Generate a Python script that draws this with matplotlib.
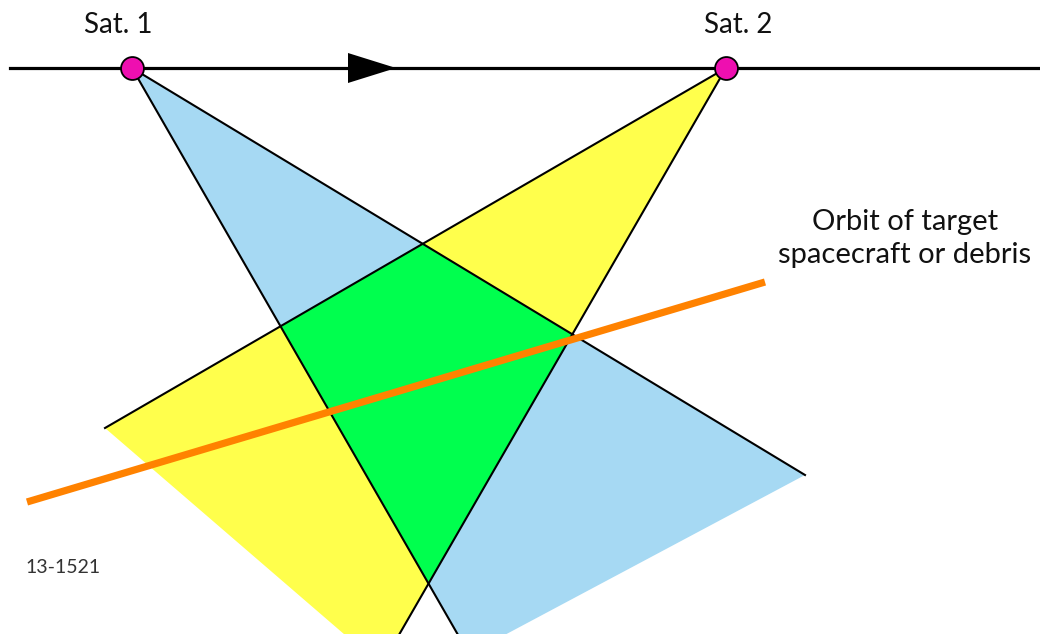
import matplotlib.pyplot as plt
from matplotlib.patches import Polygon

# diagram geometry, in picture pixels (y grows downward)
orbit_y = 68
orbit_x = [10, 1040]
sat_names = ["Sat. 1", "Sat. 2"]
sat_x = [132, 726]

# footprint of each satellite's view cone: apex, far corner, lower vertex
blue_cone = [(132, 68), (805, 475), (469, 654)]
yellow_cone = [(726, 68), (105, 428), (381, 666)]

# orbit of the target
target_x = [27, 765]
target_y = [502, 282]

# direction arrow on the satellites' orbit
arrow_tip = 396
arrow_len = 48
arrow_half = 15

BLUE = "#a6d9f3"
YELLOW = "#ffff4c"
GREEN = "#00ff4e"
MAGENTA = "#ee0fb0"
ORANGE = "#ff8200"


def main():
    plt.rcParams["font.family"] = ["Lato", "DejaVu Sans"]
    fig = plt.figure(figsize=(10.4, 6.34), dpi=100)
    ax = fig.add_axes([0, 0, 1, 1])
    ax.set_xlim(0, 1040)
    ax.set_ylim(634, 0)
    ax.axis("off")

    blue = Polygon(blue_cone, closed=True, facecolor=BLUE, edgecolor="none", zorder=1)
    yellow = Polygon(yellow_cone, closed=True, facecolor=YELLOW, edgecolor="none", zorder=2)
    ax.add_patch(blue)
    ax.add_patch(yellow)

    # overlap of both cones in green
    green = Polygon(yellow_cone, closed=True, facecolor=GREEN, edgecolor="none", zorder=3)
    ax.add_patch(green)
    green.set_clip_path(blue)

    # black edges of the cones (the far edges carry no outline)
    for cone in (blue_cone, yellow_cone):
        apex, far, low = cone
        ax.plot([apex[0], far[0]], [apex[1], far[1]], color="black", lw=1.5, zorder=4)
        ax.plot([apex[0], low[0]], [apex[1], low[1]], color="black", lw=1.5, zorder=4)

    ax.plot(target_x, target_y, color=ORANGE, lw=5.2, solid_capstyle="butt", zorder=5)

    ax.plot(orbit_x, [orbit_y, orbit_y], color="black", lw=2.3, zorder=6)
    arrow = Polygon([(arrow_tip - arrow_len, orbit_y - arrow_half),
                     (arrow_tip, orbit_y),
                     (arrow_tip - arrow_len, orbit_y + arrow_half)],
                    closed=True, facecolor="black", edgecolor="none", zorder=7)
    ax.add_patch(arrow)

    ax.plot(sat_x, [orbit_y] * len(sat_x), "o", markersize=16.5, markerfacecolor=MAGENTA,
            markeredgecolor="black", markeredgewidth=1.3, zorder=8)

    label_x = [118, 738]
    for name, x in zip(sat_names, label_x):
        ax.text(x, 33, name, ha="center", va="baseline", fontsize=20, color="#111111")

    ax.text(905, 230, "Orbit of target", ha="center", va="baseline", fontsize=21, color="#111111")
    ax.text(905, 263, "spacecraft or debris", ha="center", va="baseline", fontsize=21, color="#111111")
    ax.text(25, 573, "13-1521", ha="left", va="baseline", fontsize=14, color="#333333")

    fig.savefig("out.png", dpi=100)


if __name__ == "__main__":
    main()
